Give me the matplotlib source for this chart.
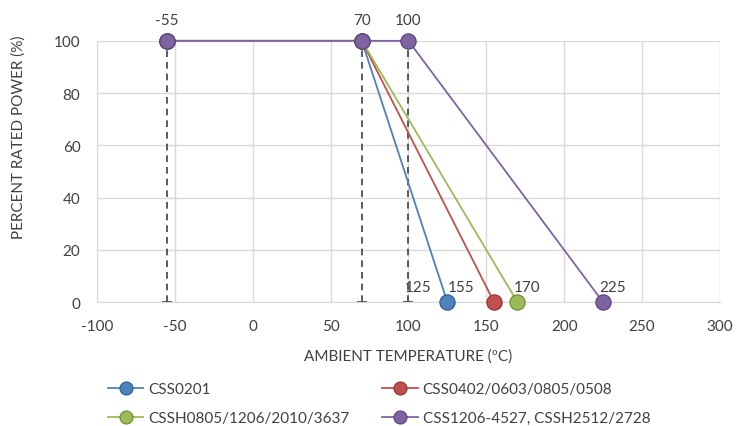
import numpy as np
import matplotlib.pyplot as plt

plt.rcParams['font.family'] = ['Lato', 'DejaVu Sans']
plt.rcParams['axes.unicode_minus'] = False

# derating curves: (temperature, percent rated power)
names = ['CSS0201', 'CSS0402/0603/0805/0508',
         'CSSH0805/1206/2010/3637', 'CSS1206-4527, CSSH2512/2728']
temps = [[-55, 70, 125], [-55, 70, 155], [-55, 70, 170], [-55, 70, 100, 225]]
power = [[100, 100, 0], [100, 100, 0], [100, 100, 0], [100, 100, 100, 0]]
colors = ['#4F81BD', '#C0504D', '#9BBB59', '#8064A2']
edges = ['#2C5A8F', '#8E2F2C', '#6C8A35', '#56407A']

# reference temperatures with dashed drop lines
ref_temps = [-55, 70, 100]

fig = plt.figure(figsize=(7.36, 4.27), dpi=100)
ax = fig.add_axes([0.132, 0.29, 0.846, 0.612])

for t in ref_temps:
    ax.vlines(t, 0, 100, colors='#404040', linestyles=(0, (4, 3)), lw=1.2, zorder=2)
    ax.plot([t], [0], marker='_', ms=7, color='#404040', mew=1.2, zorder=2)

handles = []
for i in range(4):
    h, = ax.plot(temps[i], power[i], color=colors[i], lw=1.3, marker='o', ms=11,
                 mfc=colors[i], mec=edges[i], mew=0.8, zorder=3 + i, clip_on=False)
    handles.append(h)

# point labels
lab_style = dict(textcoords='offset points', ha='center', va='bottom',
                 fontsize=11, color='#404040')
ax.annotate('-55', (-55, 100), xytext=(0, 10), **lab_style)
ax.annotate('70', (70, 100), xytext=(0, 10), **lab_style)
ax.annotate('100', (100, 100), xytext=(0, 10), **lab_style)
ax.annotate('125', (125, 0), xytext=(-21, 6), **lab_style)
ax.annotate('155', (155, 0), xytext=(-24, 6), **lab_style)
ax.annotate('170', (170, 0), xytext=(7, 6), **lab_style)
ax.annotate('225', (225, 0), xytext=(7, 6), **lab_style)

ax.set_xlim(-100, 300)
ax.set_ylim(0, 100)
ax.set_xticks(np.arange(-100, 301, 50))
ax.set_yticks(np.arange(0, 101, 20))
ax.grid(True, color='#D9D9D9', lw=1)
ax.set_axisbelow(True)
for s in ['top', 'right']:
    ax.spines[s].set_visible(False)
for s in ['left', 'bottom']:
    ax.spines[s].set_color('#D9D9D9')
ax.tick_params(length=0, labelsize=11, colors='#404040')
ax.tick_params(axis='x', pad=12)
ax.tick_params(axis='y', pad=12)
ax.set_xlabel('AMBIENT TEMPERATURE (ºC)', fontsize=11, color='#404040')
ax.xaxis.set_label_coords(0.5, -0.175)
ax.set_ylabel('PERCENT RATED POWER (%)', fontsize=11, color='#404040')
ax.yaxis.set_label_coords(-0.114, 0.635)

# legend filled row-wise like the original
order = [0, 2, 1, 3]
fig.legend([handles[k] for k in order], [names[k] for k in order],
           loc='upper left', bbox_to_anchor=(0.147, 0.103), ncol=2,
           frameon=False, fontsize=11, labelcolor='#404040', handlelength=2.3,
           handletextpad=0.33, columnspacing=2.15, labelspacing=1.0,
           markerscale=0.85, borderaxespad=0, borderpad=0)

fig.savefig('out.png', dpi=100)
